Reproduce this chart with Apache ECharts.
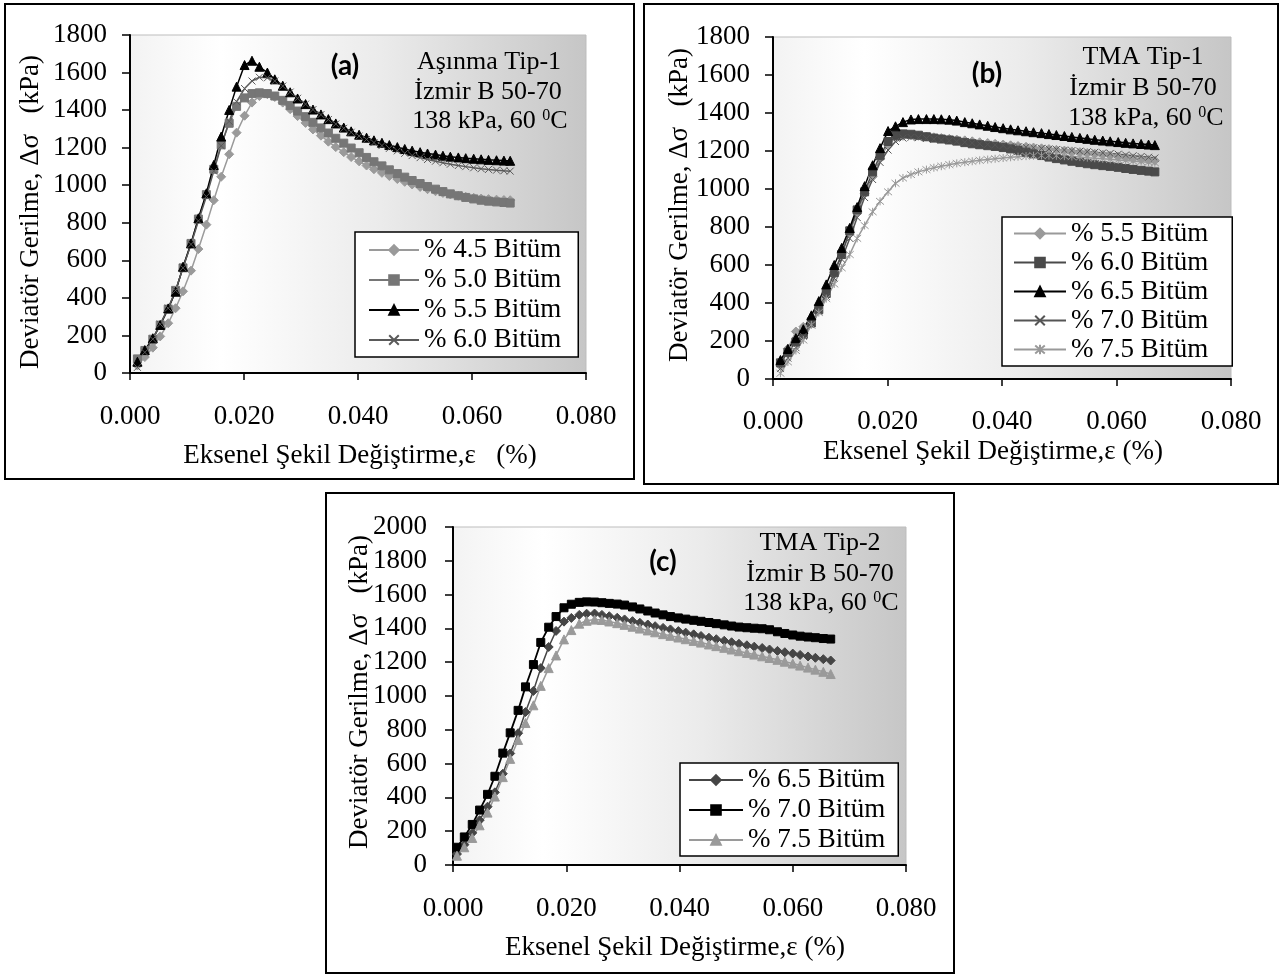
<!DOCTYPE html>
<html><head><meta charset="utf-8">
<script src="https://cdn.jsdelivr.net/npm/echarts@6/dist/echarts.min.js"></script>
<style>html,body{margin:0;padding:0;background:#fff}#chart{width:1282px;height:976px}</style>
</head><body><div id="chart"></div>
<script>
// ---- data (strain in %, deviator stress in kPa) ----
const strainAB = [0.0013,0.0026,0.0040,0.0053,0.0067,0.0080,0.0093,0.0107,0.0120,0.0134,0.0147,0.0160,0.0174,0.0187,0.0201,0.0214,0.0227,0.0241,0.0254,0.0268,0.0281,0.0294,0.0308,0.0321,0.0335,0.0348,0.0361,0.0375,0.0388,0.0402,0.0415,0.0428,0.0442,0.0455,0.0469,0.0482,0.0495,0.0509,0.0522,0.0536,0.0549,0.0562,0.0576,0.0589,0.0603,0.0616,0.0629,0.0643,0.0656,0.0667];
const strainC = [0.0007,0.0020,0.0034,0.0047,0.0061,0.0074,0.0088,0.0101,0.0115,0.0128,0.0142,0.0155,0.0169,0.0182,0.0196,0.0209,0.0223,0.0236,0.0250,0.0263,0.0276,0.0290,0.0303,0.0317,0.0330,0.0344,0.0357,0.0371,0.0384,0.0398,0.0411,0.0425,0.0438,0.0452,0.0465,0.0479,0.0492,0.0505,0.0519,0.0532,0.0546,0.0559,0.0573,0.0586,0.0600,0.0613,0.0627,0.0640,0.0654,0.0667];

// panel (a) Aşınma Tip-1
const a45 = [40,85,135,195,265,345,435,545,660,790,920,1045,1165,1280,1370,1440,1475,1485,1470,1440,1405,1368,1332,1297,1264,1232,1203,1176,1150,1127,1105,1085,1066,1049,1033,1018,1004,991,979,968,959,951,944,938,933,929,926,923,921,920];
const a50 = [75,120,180,255,340,440,560,690,820,950,1085,1215,1330,1420,1465,1488,1492,1488,1475,1452,1425,1395,1365,1335,1305,1278,1250,1224,1198,1173,1148,1125,1103,1082,1062,1043,1025,1009,993,979,966,954,944,935,927,920,915,911,908,905];
const a55 = [60,122,185,256,344,433,566,690,824,957,1108,1259,1401,1525,1640,1663,1631,1600,1564,1530,1495,1462,1432,1403,1377,1352,1329,1307,1287,1269,1253,1239,1226,1214,1203,1193,1184,1176,1169,1163,1157,1152,1148,1144,1141,1138,1135,1133,1131,1130];
const a60 = [30,110,180,260,345,440,560,685,810,940,1075,1210,1340,1445,1515,1555,1575,1572,1555,1528,1496,1463,1432,1403,1376,1350,1326,1303,1282,1262,1244,1227,1211,1196,1183,1170,1158,1147,1137,1128,1120,1112,1105,1099,1093,1088,1084,1080,1077,1075];

// panel (b) TMA Tip-1
const b55 = [70,160,250,275,320,390,470,560,660,770,875,975,1065,1160,1235,1268,1280,1282,1280,1276,1272,1268,1264,1260,1256,1251,1246,1242,1238,1234,1230,1226,1222,1218,1214,1210,1206,1202,1198,1194,1190,1186,1181,1176,1171,1166,1161,1157,1153,1150];
const b60 = [85,140,195,235,295,365,450,560,655,780,890,985,1090,1175,1250,1282,1290,1288,1283,1275,1268,1263,1258,1252,1244,1238,1233,1228,1224,1218,1211,1203,1194,1185,1176,1168,1160,1153,1146,1139,1133,1128,1123,1119,1114,1108,1103,1098,1094,1090];
const b65 = [100,158,215,262,335,410,498,600,690,795,905,1015,1125,1215,1305,1330,1352,1366,1368,1368,1368,1367,1365,1360,1352,1346,1340,1333,1326,1320,1314,1309,1304,1299,1294,1289,1284,1279,1274,1269,1264,1259,1255,1251,1247,1243,1240,1237,1234,1231];
const b70 = [55,110,165,225,285,355,435,530,630,740,850,955,1050,1140,1205,1250,1268,1272,1270,1266,1262,1258,1254,1250,1246,1242,1238,1235,1232,1229,1226,1223,1220,1217,1214,1211,1208,1205,1202,1199,1196,1193,1190,1187,1183,1179,1175,1171,1167,1163];
const b75 = [30,90,150,205,285,350,423,500,585,655,740,808,880,935,985,1030,1058,1076,1090,1102,1112,1120,1128,1135,1141,1146,1151,1155,1159,1163,1167,1170,1173,1175,1176,1176,1175,1173,1171,1168,1165,1162,1159,1156,1153,1150,1147,1144,1141,1138];

// panel (c) TMA Tip-2
const c65 = [65,120,190,265,345,430,540,660,780,905,1030,1165,1290,1385,1440,1462,1480,1487,1488,1480,1472,1463,1453,1443,1433,1423,1413,1403,1394,1384,1375,1365,1355,1345,1336,1327,1318,1309,1300,1292,1284,1275,1267,1259,1251,1243,1234,1226,1218,1210];
const c70 = [105,166,240,325,418,525,662,782,915,1054,1186,1317,1407,1470,1522,1543,1554,1557,1556,1552,1548,1544,1538,1527,1515,1503,1491,1480,1470,1462,1455,1448,1442,1435,1428,1421,1414,1408,1404,1401,1398,1392,1380,1370,1361,1354,1349,1345,1340,1337];
const c75 = [55,105,160,235,310,405,520,628,740,840,945,1060,1165,1240,1335,1390,1428,1445,1452,1450,1441,1431,1421,1410,1399,1388,1377,1366,1356,1346,1336,1326,1316,1305,1295,1285,1275,1265,1255,1245,1235,1225,1214,1203,1192,1180,1168,1156,1143,1130];

const legendA = ['% 4.5 Bitüm','% 5.0 Bitüm','% 5.5 Bitüm','% 6.0 Bitüm'];
const legendB = ['% 5.5 Bitüm','% 6.0 Bitüm','% 6.5 Bitüm','% 7.0 Bitüm','% 7.5 Bitüm'];
const legendC = ['% 6.5 Bitüm','% 7.0 Bitüm','% 7.5 Bitüm'];

// ---- chart ----
const SERIF = 'Liberation Serif';
const chart = echarts.init(document.getElementById('chart'), null, {renderer: 'canvas'});
const crossSym = 'path://M0,0L10,10M10,0L0,10';
const starSym = 'path://M0,0L10,10M10,0L0,10M5,-1L5,11';

function bg() {
  return new echarts.graphic.LinearGradient(0, 0, 1, 0, [
    {offset: 0, color: '#f3f3f3'}, {offset: 0.2, color: '#ffffff'},
    {offset: 0.55, color: '#ebebeb'}, {offset: 1, color: '#c6c6c6'}]);
}
function grid(left, top, width, height) {
  return {left, top, width, height, show: true, backgroundColor: bg(), borderColor: '#bdbdbd', borderWidth: 1, containLabel: false, outerBoundsMode: 'none'};
}
function xAx(gi, margin) {
  return {type: 'value', gridIndex: gi, min: 0, max: 0.08, interval: 0.02,
    axisLine: {show: true, onZero: false, lineStyle: {color: '#000', width: 2}},
    axisTick: {show: true, inside: false, length: 7, lineStyle: {color: '#000', width: 1.5}},
    axisLabel: {margin, fontFamily: SERIF, fontSize: 27, color: '#000', showMinLabel: true, showMaxLabel: true, formatter: v => v.toFixed(3)},
    splitLine: {show: false}};
}
function yAx(gi, max, margin) {
  return {type: 'value', gridIndex: gi, min: 0, max, interval: 200,
    axisLine: {show: true, onZero: false, lineStyle: {color: '#000', width: 2}},
    axisTick: {show: true, inside: false, length: 8, lineStyle: {color: '#000', width: 1.5}},
    axisLabel: {margin, fontFamily: SERIF, fontSize: 27, color: '#000', showMinLabel: true, showMaxLabel: true, formatter: v => String(Math.round(v))},
    splitLine: {show: false}};
}
function ser(prefix, label, xs, ys, gi, color, symbol, size, lw) {
  return {type: 'line', name: prefix + label, xAxisIndex: gi, yAxisIndex: gi,
    data: xs.map((x, i) => [x, ys[i]]), symbol, symbolSize: size, showAllSymbol: true,
    lineStyle: {color, width: lw}, itemStyle: {color, borderColor: color, borderWidth: 1},
    emphasis: {disabled: true}, silent: true};
}
function leg(prefix, names, left, top, pad, iw, lh) {
  return {show: true, data: names.map(n => prefix + n), orient: 'vertical', left, top, padding: pad,
    itemGap: 0, itemWidth: iw, itemHeight: 12, backgroundColor: '#fff', borderColor: '#000', borderWidth: 1.5,
    borderRadius: 0, selectedMode: false, formatter: n => n.slice(2),
    textStyle: {fontFamily: SERIF, fontSize: 27, color: '#000', lineHeight: lh}};
}
function txt(x, y, text, size) {
  return {type: 'text', x, y, silent: true, z: 100,
    style: {text, fontFamily: SERIF, fontSize: size, fill: '#000', align: 'center', verticalAlign: 'middle'}};
}
function rtxt(x, y, text, size) {
  const t = txt(x, y, text, size);
  t.rotation = Math.PI / 2;
  return t;
}
function supTxt(x, y) {
  return {type: 'text', x, y, silent: true, z: 100,
    style: {text: '138 kPa, 60 {sup|0}C', fontFamily: SERIF, fontSize: 26, fill: '#000', align: 'center', verticalAlign: 'middle',
      rich: {sup: {fontFamily: SERIF, fontSize: 16, fill: '#000', verticalAlign: 'top', lineHeight: 26}}}};
}
function boldTxt(x, y, text) {
  return {type: 'text', x, y, silent: true, z: 100,
    style: {text, fontFamily: 'Lato', fontWeight: 'bold', fontSize: 28, fill: '#000', align: 'center', verticalAlign: 'middle'}};
}
function frame(x, y, w, h) {
  return {type: 'rect', shape: {x, y, width: w, height: h}, silent: true, z: 100,
    style: {fill: 'none', stroke: '#000', lineWidth: 2}};
}

const option = {
  animation: false,
  backgroundColor: '#fff',
  grid: [grid(130, 35, 456, 338), grid(773, 37, 458, 342), grid(453, 527, 453, 338)],
  xAxis: [xAx(0, 30), xAx(1, 29), xAx(2, 30)],
  yAxis: [yAx(0, 1800, 23), yAx(1, 1800, 23), yAx(2, 2000, 26)],
  legend: [
    leg('a:', legendA, 355, 232, [3, 17, 2, 13], 50, 30),
    leg('b:', legendB, 1002, 217, [2, 24, 2, 11], 52, 29),
    leg('c:', legendC, 680, 763, [2, 13, 1, 8], 54, 30)
  ],
  series: [
    ser('a:', legendA[0], strainAB, a45, 0, '#9a9a9a', 'diamond', 9, 1.5),
    ser('a:', legendA[1], strainAB, a50, 0, '#767676', 'rect', 8, 1.5),
    ser('a:', legendA[2], strainAB, a55, 0, '#000000', 'triangle', 9, 1.5),
    ser('a:', legendA[3], strainAB, a60, 0, '#5a5a5a', crossSym, 7, 1.5),
    ser('b:', legendB[0], strainAB, b55, 1, '#9a9a9a', 'diamond', 9, 1.5),
    ser('b:', legendB[1], strainAB, b60, 1, '#4a4a4a', 'rect', 8, 1.5),
    ser('b:', legendB[2], strainAB, b65, 1, '#000000', 'triangle', 9, 1.5),
    ser('b:', legendB[3], strainAB, b70, 1, '#555555', crossSym, 7, 1.5),
    ser('b:', legendB[4], strainAB, b75, 1, '#999999', starSym, 8, 1.5),
    ser('c:', legendC[0], strainC, c65, 2, '#454545', 'diamond', 9, 1.5),
    ser('c:', legendC[1], strainC, c70, 2, '#000000', 'rect', 8, 1.8),
    ser('c:', legendC[2], strainC, c75, 2, '#9a9a9a', 'triangle', 9, 1.5)
  ],
  graphic: [
    frame(5, 4, 629, 475), frame(644, 4, 634, 480), frame(326, 493, 628, 480),
    boldTxt(345, 66, '(a)'), boldTxt(987, 74, '(b)'), boldTxt(663, 562, '(c)'),
    txt(489, 62, 'Aşınma Tip-1', 26), txt(488, 92, 'İzmir B 50-70', 26), supTxt(490, 121),
    txt(1143, 57, 'TMA Tip-1', 26), txt(1143, 88, 'İzmir B 50-70', 26), supTxt(1146, 118),
    txt(820, 543, 'TMA Tip-2', 26), txt(820, 574, 'İzmir B 50-70', 26), supTxt(821, 603),
    rtxt(31, 212, 'Deviatör Gerilme, Δσ   (kPa)', 27),
    rtxt(680, 205, 'Deviatör Gerilme, Δσ   (kPa)', 27),
    rtxt(360, 692, 'Deviatör Gerilme, Δσ   (kPa)', 27),
    txt(360, 456, 'Eksenel Şekil Değiştirme,ε   (%)', 27),
    txt(993, 452, 'Eksenel Şekil Değiştirme,ε (%)', 27),
    txt(675, 948, 'Eksenel Şekil Değiştirme,ε (%)', 27)
  ]
};
chart.setOption(option);
</script>
</body></html>
